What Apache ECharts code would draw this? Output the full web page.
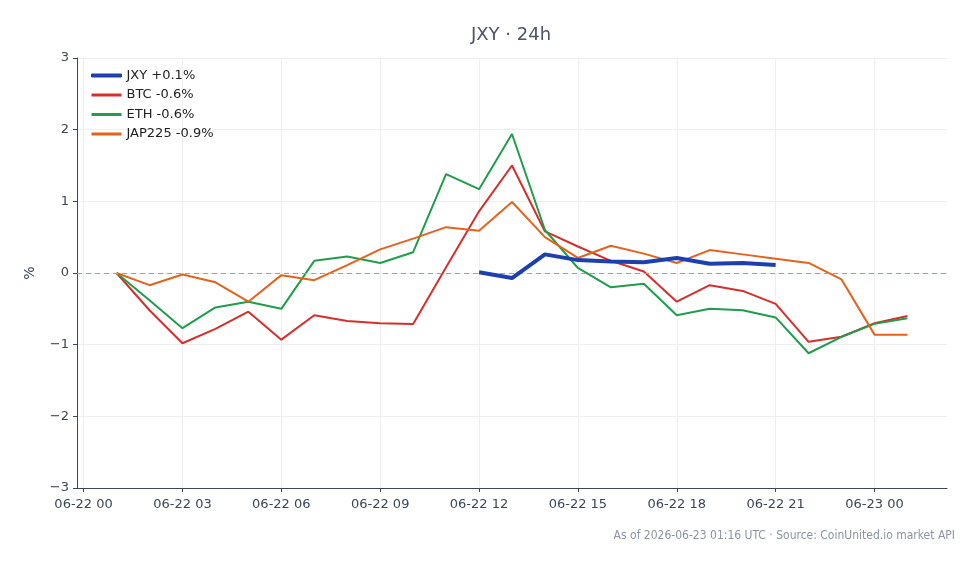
<!DOCTYPE html>
<html>
<head>
<meta charset="utf-8">
<title>JXY 24h</title>
<script src="https://cdn.jsdelivr.net/npm/echarts@6/dist/echarts.min.js"></script>
<style>
  html, body { margin: 0; padding: 0; background: #fff; }
  #chart { width: 979px; height: 564px; }
</style>
</head>
<body>
<div id="chart"></div>
<script>
// x = hours after 2026-06-22 00:00
var hours = [1, 2, 3, 4, 5, 6, 7, 8, 9, 10, 11, 12, 13, 14, 15, 16, 17, 18, 19, 20, 21, 22, 23, 24, 25];
var btc = [0, -0.52, -0.98, -0.78, -0.54, -0.93, -0.59, -0.67, -0.70, -0.71, 0.08, 0.86, 1.50, 0.58, 0.37, 0.17, 0.02, -0.40, -0.17, -0.25, -0.43, -0.96, -0.89, -0.70, -0.60];
var eth = [0, -0.38, -0.77, -0.48, -0.40, -0.50, 0.17, 0.23, 0.14, 0.29, 1.38, 1.17, 1.94, 0.60, 0.07, -0.20, -0.15, -0.59, -0.50, -0.52, -0.62, -1.12, -0.89, -0.71, -0.63];
var jap = [0, -0.17, -0.02, -0.13, -0.40, -0.03, -0.10, 0.11, 0.33, 0.48, 0.64, 0.59, 0.99, 0.50, 0.21, 0.38, 0.27, 0.14, 0.32, 0.26, 0.20, 0.14, -0.09, -0.86, -0.86];
var jxyHours = [12, 13, 14, 15, 16, 17, 18, 19, 20, 21];
var jxy = [0.01, -0.07, 0.26, 0.18, 0.16, 0.15, 0.21, 0.13, 0.14, 0.11];
var tickHours = [0, 3, 6, 9, 12, 15, 18, 21, 24];
var tickLabels = ["06-22 00", "06-22 03", "06-22 06", "06-22 09", "06-22 12", "06-22 15", "06-22 18", "06-22 21", "06-23 00"];
var names = ["JXY +0.1%", "BTC -0.6%", "ETH -0.6%", "JAP225 -0.9%"];
var colors = ["#1e40af", "#d62f2b", "#1f9d4a", "#e5621c"];

function pairs(hs, vals) {
  return hs.map(function (h, i) { return [h, vals[i]]; });
}

var chart = echarts.init(document.getElementById("chart"));
var font = "DejaVu Sans";
var axisColor = "#3b4656";
var gridColor = "#eceef2";

var option = {
  animation: false,
  title: {
    text: "JXY · 24h",
    left: 506,
    top: 21,
    textAlign: "center",
    textStyle: { color: "#4a5568", fontSize: 18, fontWeight: "normal", fontFamily: font }
  },
  graphic: [{
    type: "text",
    right: 24,
    top: 530,
    style: {
      text: "As of 2026-06-23 01:16 UTC · Source: CoinUnited.io market API",
      fill: "#8a94a3",
      font: "12px 'DejaVu Sans Condensed', 'DejaVu Sans', sans-serif"
    }
  }],
  legend: {
    left: 86,
    top: 64,
    orient: "vertical",
    itemGap: 6.5,
    itemWidth: 30,
    itemHeight: 3,
    textStyle: { color: "#222", fontSize: 13, fontFamily: font },
    data: [
      { name: names[0], icon: "rect", itemStyle: { borderColor: colors[0], borderWidth: 1 } },
      { name: names[1], icon: "rect" },
      { name: names[2], icon: "rect" },
      { name: names[3], icon: "rect" }
    ]
  },
  grid: { left: 77, right: 32, top: 58, bottom: 76 },
  xAxis: {
    type: "value",
    min: -0.2,
    max: 26.2,
    axisLine: { show: true, onZero: false, lineStyle: { color: axisColor, width: 1 } },
    axisTick: { show: true, customValues: tickHours, lineStyle: { color: axisColor }, length: 4 },
    splitLine: { show: true, lineStyle: { color: gridColor } },
    axisLabel: {
      customValues: tickHours,
      color: axisColor,
      fontSize: 13,
      fontFamily: font,
      margin: 10,
      formatter: function (v) {
        var i = tickHours.indexOf(v);
        return i >= 0 ? tickLabels[i] : "";
      }
    }
  },
  yAxis: {
    type: "value",
    min: -3,
    max: 3,
    interval: 1,
    name: "%",
    nameLocation: "middle",
    nameGap: 40,
    nameTextStyle: { color: axisColor, fontSize: 14, fontFamily: font },
    axisLine: { show: true, onZero: false, lineStyle: { color: axisColor } },
    axisTick: { show: true, length: 4, lineStyle: { color: axisColor } },
    splitLine: { lineStyle: { color: gridColor } },
    axisLabel: {
      color: axisColor,
      fontSize: 13,
      fontFamily: font,
      margin: 8,
      formatter: function (v) { return String(v).replace("-", "\u2212"); }
    }
  },
  series: [
    {
      name: names[0],
      type: "line",
      data: pairs(jxyHours, jxy),
      showSymbol: false,
      z: 5,
      itemStyle: { color: colors[0] },
      lineStyle: { color: colors[0], width: 4 }
    },
    {
      name: names[1],
      type: "line",
      data: pairs(hours, btc),
      showSymbol: false,
      itemStyle: { color: colors[1] },
      lineStyle: { color: colors[1], width: 2 },
      markLine: {
        silent: true,
        symbol: "none",
        label: { show: false },
        emphasis: { disabled: true },
        data: [
          { yAxis: 0, lineStyle: { color: "#8ea3c2", type: [5, 4], width: 1 } }
        ]
      }
    },
    {
      name: names[2],
      type: "line",
      data: pairs(hours, eth),
      showSymbol: false,
      itemStyle: { color: colors[2] },
      lineStyle: { color: colors[2], width: 2 }
    },
    {
      name: names[3],
      type: "line",
      data: pairs(hours, jap),
      showSymbol: false,
      itemStyle: { color: colors[3] },
      lineStyle: { color: colors[3], width: 2 }
    }
  ]
};
chart.setOption(option);
</script>
</body>
</html>
